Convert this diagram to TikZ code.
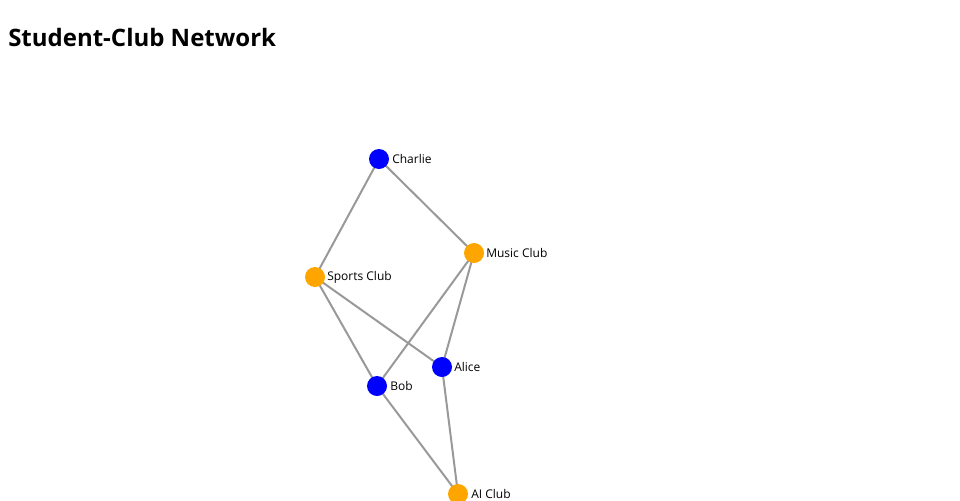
\documentclass[tikz,border=0pt]{standalone}
\usepackage{fontspec}
\setmainfont{Open Sans}
\begin{document}
\begin{tikzpicture}[x=0.75pt,y=-0.75pt,
  student/.style={circle,fill={rgb,255:red,0;green,0;blue,255},minimum size=15pt,inner sep=0pt},
  club/.style={circle,fill={rgb,255:red,255;green,165;blue,0},minimum size=15pt,inner sep=0pt},
  lbl/.style={font=\fontsize{9pt}{10pt}\selectfont,anchor=west,inner sep=0pt},
  edge/.style={draw={rgb,255:red,153;green,153;blue,153},line width=1.5pt}]
\useasboundingbox (0,0) rectangle (960,500);
\clip (0,0) rectangle (960,500);
\node[anchor=base west,inner sep=0pt,font=\fontsize{18pt}{20pt}\selectfont\bfseries] (title) at (8,46) {Student-Club Network};
\coordinate (pC) at (379,159);
\coordinate (pM) at (474,253);
\coordinate (pS) at (315,277);
\coordinate (pA) at (442,367);
\coordinate (pB) at (377,386);
\coordinate (pI) at (458,494);
\draw[edge] (pC) -- (pS);
\draw[edge] (pC) -- (pM);
\draw[edge] (pS) -- (pB);
\draw[edge] (pS) -- (pA);
\draw[edge] (pM) -- (pB);
\draw[edge] (pM) -- (pA);
\draw[edge] (pB) -- (pI);
\draw[edge] (pA) -- (pI);
\node[student] (charlie) at (pC) {};
\node[club] (music) at (pM) {};
\node[club] (sports) at (pS) {};
\node[student] (alice) at (pA) {};
\node[student] (bob) at (pB) {};
\node[club] (ai) at (pI) {};
\node[lbl] (lcharlie) at ([xshift=13*0.75pt]pC) {Charlie};
\node[lbl] (lmusic) at ([xshift=12*0.75pt]pM) {Music Club};
\node[lbl] (lsports) at ([xshift=12*0.75pt]pS) {Sports Club};
\node[lbl] (lalice) at ([xshift=12*0.75pt]pA) {Alice};
\node[lbl] (lbob) at ([xshift=13*0.75pt]pB) {Bob};
\node[lbl] (lai) at ([xshift=13*0.75pt]pI) {AI Club};
\end{tikzpicture}
\end{document}
